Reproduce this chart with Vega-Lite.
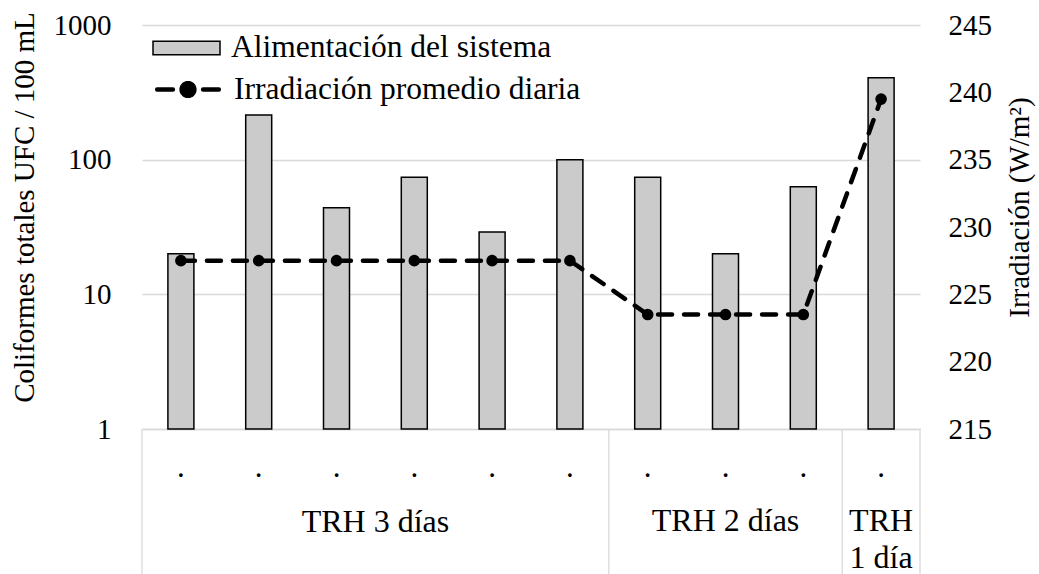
{
  "$schema": "https://vega.github.io/schema/vega-lite/v6.json",
  "autosize": {"type": "none"},
  "padding": {"left": 142, "top": 25, "right": 119, "bottom": 145},
  "width": 778,
  "height": 404,
  "background": "white",
  "config": {
    "font": "Liberation Serif, Times New Roman, serif",
    "view": {"stroke": null},
    "text": {"font": "Liberation Serif, Times New Roman, serif"},
    "axis": {"labelFont": "Liberation Serif, Times New Roman, serif", "titleFont": "Liberation Serif, Times New Roman, serif", "labelColor": "black", "titleColor": "black", "titleFontWeight": "normal", "labelFontSize": 29, "titleFontSize": 29},
    "legend": {"labelFont": "Liberation Serif, Times New Roman, serif", "labelFontSize": 31.5, "labelColor": "black", "padding": 0, "labelLimit": 0}
  },
  "datasets": {
    "muestras": [
      {"muestra": "1", "grupo": "TRH 3 días", "ufc": 20, "irradiacion": 227.5},
      {"muestra": "2", "grupo": "TRH 3 días", "ufc": 215, "irradiacion": 227.5},
      {"muestra": "3", "grupo": "TRH 3 días", "ufc": 44, "irradiacion": 227.5},
      {"muestra": "4", "grupo": "TRH 3 días", "ufc": 74, "irradiacion": 227.5},
      {"muestra": "5", "grupo": "TRH 3 días", "ufc": 29, "irradiacion": 227.5},
      {"muestra": "6", "grupo": "TRH 3 días", "ufc": 100, "irradiacion": 227.5},
      {"muestra": "7", "grupo": "TRH 2 días", "ufc": 74, "irradiacion": 223.5},
      {"muestra": "8", "grupo": "TRH 2 días", "ufc": 20, "irradiacion": 223.5},
      {"muestra": "9", "grupo": "TRH 2 días", "ufc": 63, "irradiacion": 223.5},
      {"muestra": "10", "grupo": "TRH 1 día", "ufc": 405, "irradiacion": 239.5}
    ]
  },
  "data": {"name": "muestras"},
  "layer": [
    {
      "mark": {"type": "bar", "size": 26, "stroke": "black", "strokeWidth": 1.5},
      "encoding": {
        "x": {
          "field": "muestra", "type": "nominal",
          "scale": {"domain": ["1","2","3","4","5","6","7","8","9","10"], "paddingInner": 0, "paddingOuter": 0},
          "axis": {"title": null, "labelExpr": "'.'", "labelAngle": 0, "ticks": false, "tickSize": 0, "labelPadding": 47, "labelBaseline": "alphabetic", "labelFontSize": 31, "domainColor": "#d9d9d9", "domainWidth": 1.3, "grid": false}
        },
        "y": {
          "field": "ufc", "type": "quantitative",
          "scale": {"type": "log", "domain": [1, 1000]},
          "axis": {"title": "Coliformes totales UFC / 100 mL", "values": [1, 10, 100, 1000], "format": "d", "domain": false, "ticks": false, "labelPadding": 31, "titlePadding": 14, "titleY": 182, "gridColor": "#d9d9d9", "gridWidth": 1.3}
        },
        "y2": {"datum": 1},
        "fill": {
          "datum": "Alimentación del sistema",
          "scale": {"range": ["#cbcbcb"]},
          "legend": {"title": null, "orient": "none", "legendX": 10, "legendY": -11.5, "symbolType": "M-1,-0.2H1V0.2H-1Z", "symbolSize": 4489, "symbolStrokeColor": "black", "symbolStrokeWidth": 1.5, "labelOffset": 10, "symbolOpacity": 1, "labelLimit": 0}
        }
      }
    },
    {
      "mark": {"type": "line", "color": "black", "strokeWidth": 4.5, "strokeDash": [14, 12], "strokeCap": "round"},
      "encoding": {
        "x": {"field": "muestra", "type": "nominal"},
        "y": {
          "field": "irradiacion", "type": "quantitative",
          "scale": {"domain": [215, 245], "zero": false, "nice": false},
          "axis": {"orient": "right", "title": "Irradiación (W/m²)", "values": [215, 220, 225, 230, 235, 240, 245], "domain": false, "ticks": false, "grid": false, "labelPadding": 28, "titleAngle": 270, "titleBaseline": "top", "titlePadding": 14, "titleY": 182}
        },
        "stroke": {
          "datum": "Irradiación promedio diaria",
          "scale": {"range": ["black"]},
          "legend": {
            "title": null, "orient": "none", "legendX": 10, "legendY": 28.5, "labelLimit": 0,
            "symbolType": "M-0.92,0H-0.45M0.45,0H0.92M-0.19,0A0.19,0.19,0,1,0,0.19,0A0.19,0.19,0,1,0,-0.19,0Z",
            "symbolSize": 4489, "symbolStrokeWidth": 4.5, "labelOffset": 10,
            "encode": {"symbols": {"update": {"fill": {"value": "black"}, "strokeDash": {"value": [1, 0]}, "strokeCap": {"value": "round"}, "opacity": {"value": 1}}}}
          }
        }
      }
    },
    {
      "mark": {"type": "point", "shape": "circle", "filled": true, "size": 135, "color": "black", "opacity": 1},
      "encoding": {
        "x": {"field": "muestra", "type": "nominal"},
        "y": {"field": "irradiacion", "type": "quantitative", "scale": {"domain": [215, 245], "zero": false, "nice": false}, "axis": null}
      }
    },
    {
      "data": {"values": [{"muestra": "1"}, {"muestra": "7"}, {"muestra": "10"}]},
      "mark": {"type": "rule", "color": "#d9d9d9", "strokeWidth": 1.3, "y": {"expr": "height"}, "y2": {"expr": "height + 150"}},
      "encoding": {"x": {"field": "muestra", "type": "nominal", "bandPosition": 0}}
    },
    {
      "data": {"values": [{"muestra": "10"}]},
      "mark": {"type": "rule", "color": "#d9d9d9", "strokeWidth": 1.3, "y": {"expr": "height"}, "y2": {"expr": "height + 150"}},
      "encoding": {"x": {"field": "muestra", "type": "nominal", "bandPosition": 1}}
    },
    {
      "data": {"values": [{"muestra": "3", "grupo": "TRH 3 días"}]},
      "mark": {"type": "text", "fontSize": 32, "baseline": "alphabetic", "align": "center", "color": "black", "y": {"expr": "height + 103"}},
      "encoding": {"x": {"field": "muestra", "type": "nominal", "bandPosition": 1}, "text": {"field": "grupo"}}
    },
    {
      "data": {"values": [{"muestra": "8", "grupo": "TRH 2 días"}, {"muestra": "10", "grupo": "TRH\n1 día"}]},
      "mark": {"type": "text", "fontSize": 32, "baseline": "alphabetic", "align": "center", "color": "black", "lineBreak": "\n", "lineHeight": 37, "y": {"expr": "height + 102"}},
      "encoding": {"x": {"field": "muestra", "type": "nominal", "bandPosition": 0.5}, "text": {"field": "grupo"}}
    }
  ],
  "resolve": {"scale": {"y": "independent"}}
}
